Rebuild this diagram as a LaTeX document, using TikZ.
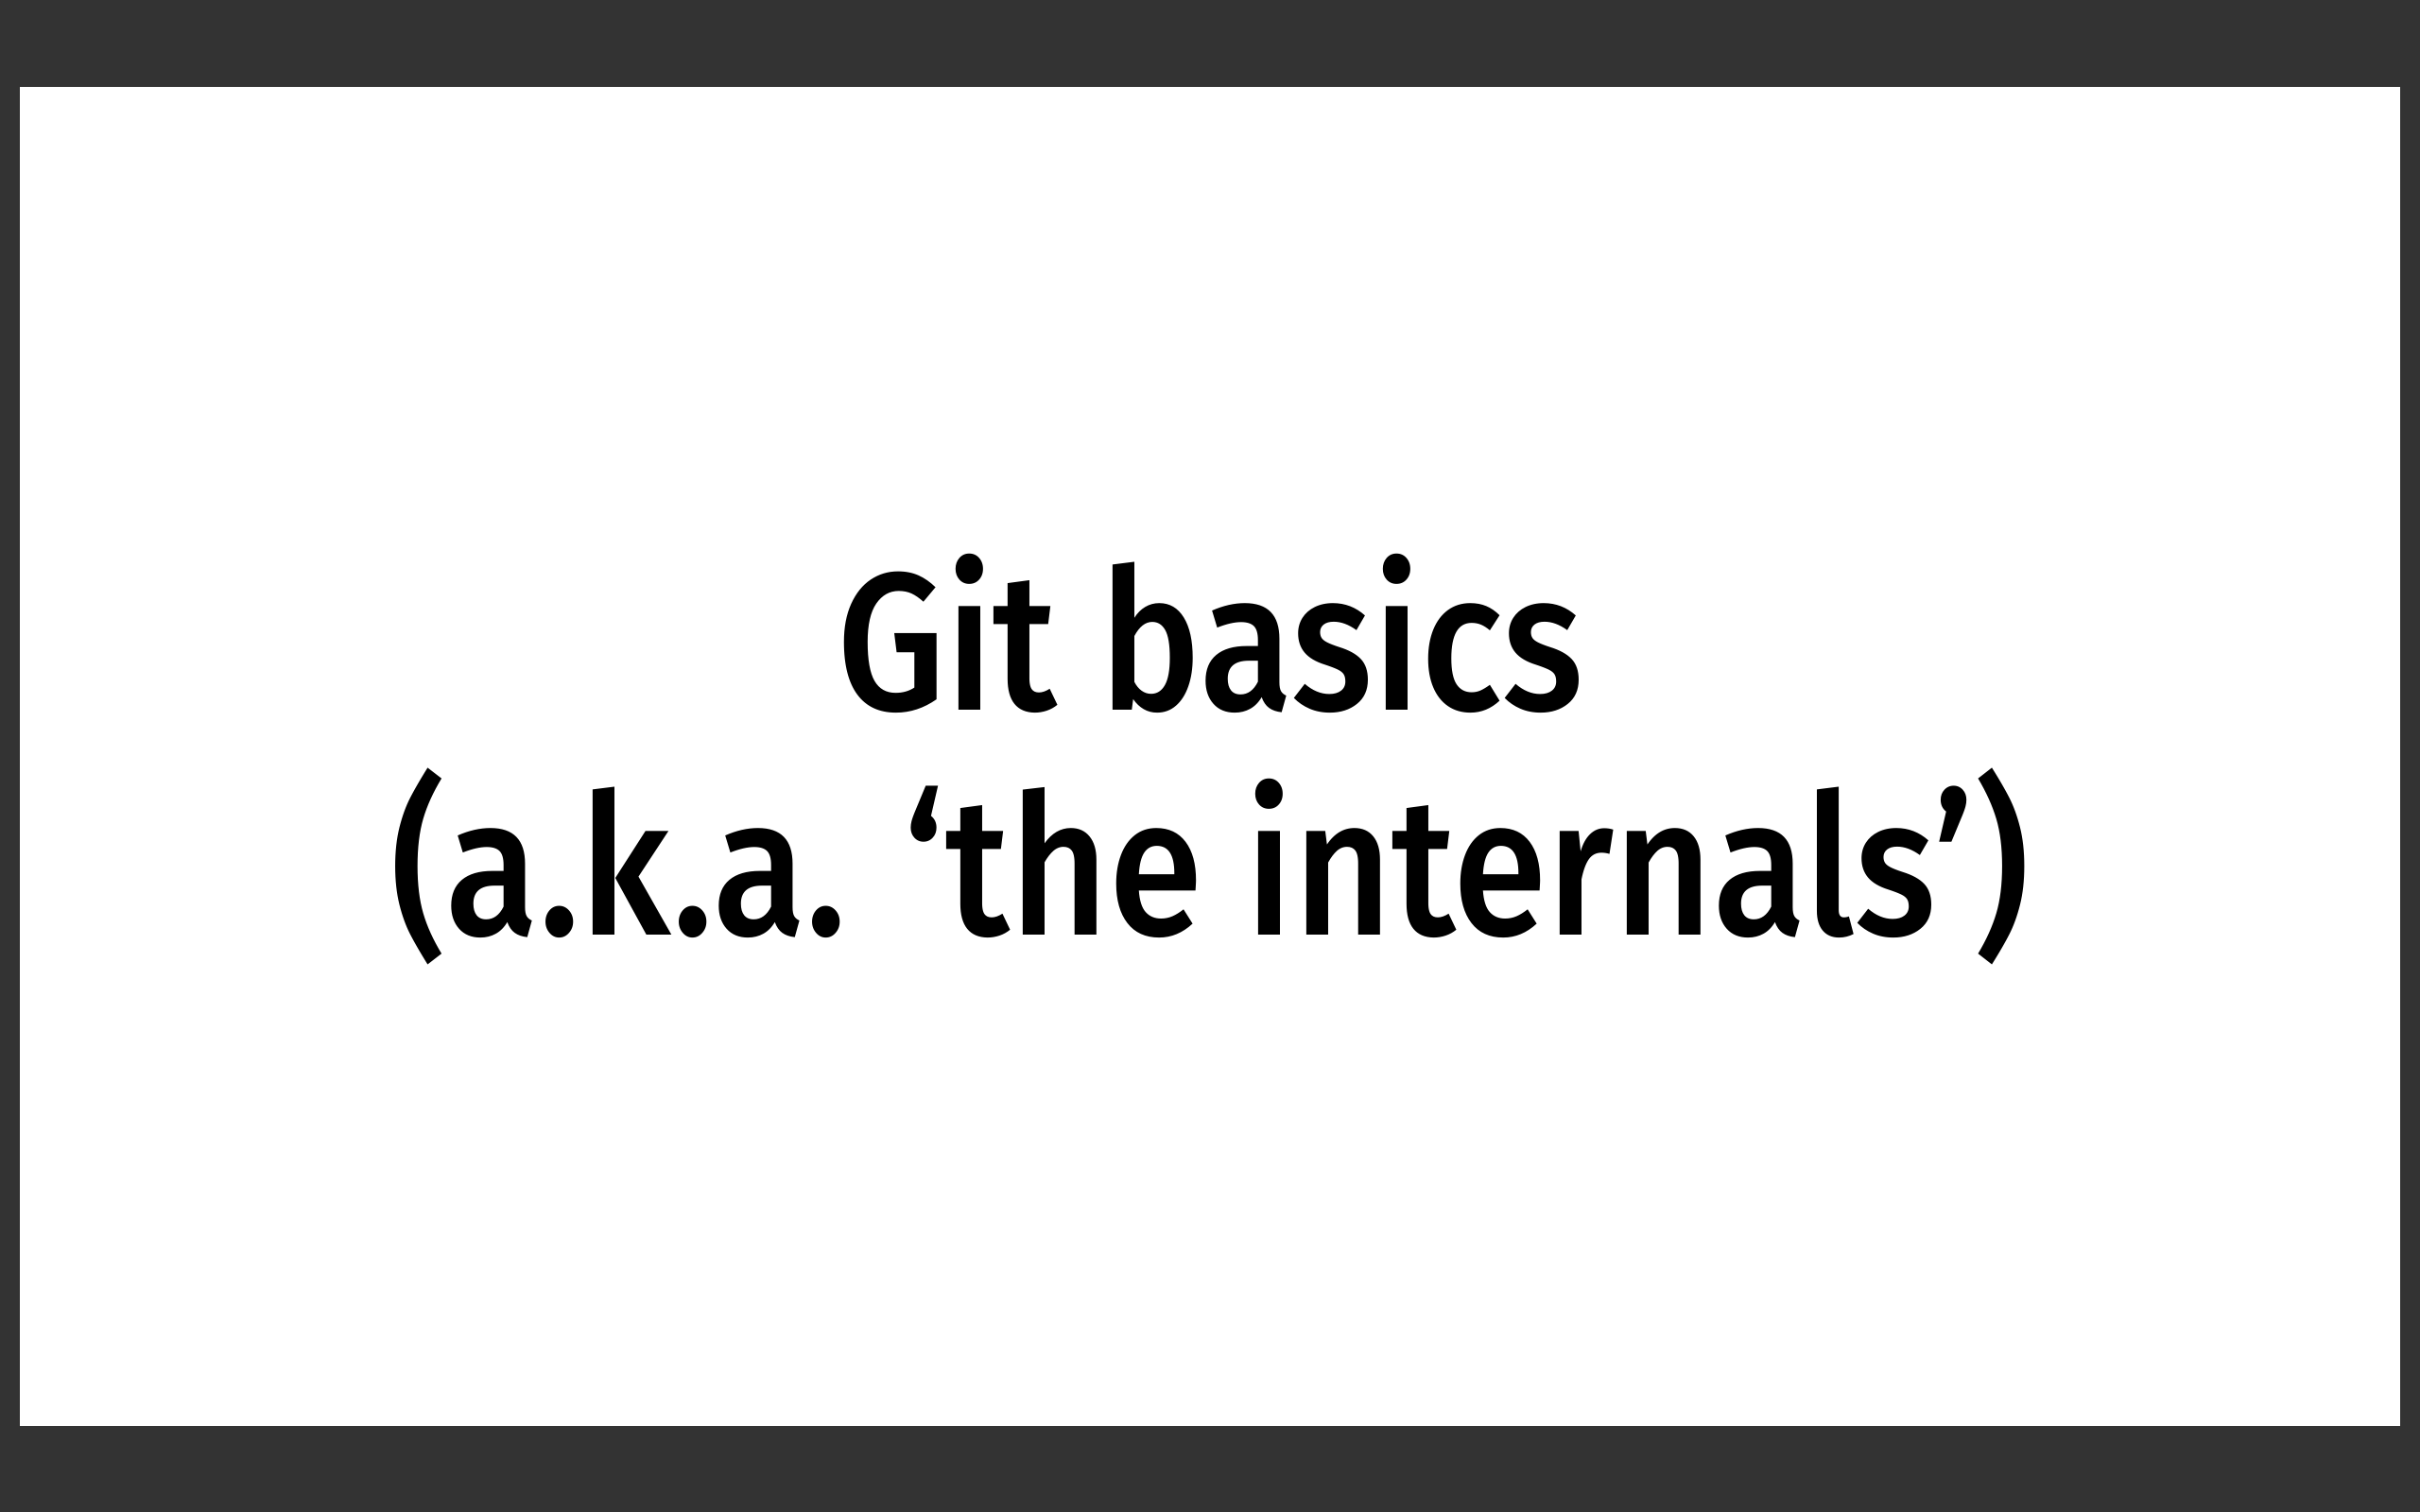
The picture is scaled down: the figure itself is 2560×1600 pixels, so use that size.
\documentclass[tikz,border=0pt]{standalone}
\usepackage{fontspec}
\setmainfont{Fira Sans}[UprightFont=* Medium, FakeStretch=0.87]
\definecolor{frameGray}{HTML}{333333}
\begin{document}
\begin{tikzpicture}[x=0.1mm, y=-0.1mm]
	\tikzset{slideText/.style={anchor=base, inner sep=0pt, font=\fontsize{59}{70}\selectfont}}
	% dark frame round the slide
	\fill[frameGray] (0,0) rectangle (2560,1600);
	\fill[white] (21,92) rectangle (2539,1509);
	% title lines
	\node[slideText] (title) at (1280,751) {Git basics};
	\node[slideText] (subtitle) at (1280,989) {(a.k.a. ‘the internals’)};
\end{tikzpicture}
\end{document}
